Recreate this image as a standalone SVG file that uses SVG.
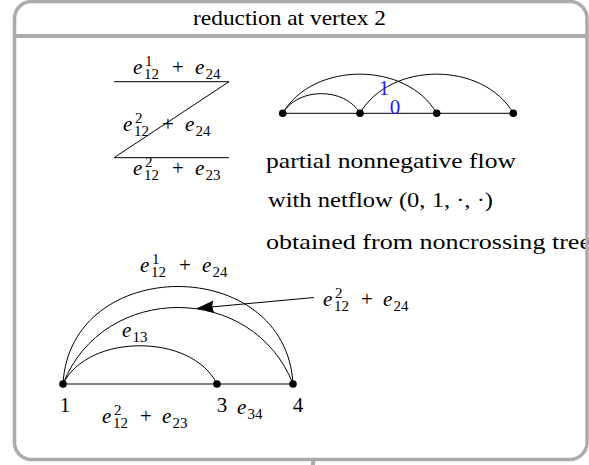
<svg xmlns="http://www.w3.org/2000/svg" width="589" height="465" viewBox="0 0 589 465">
<defs>
<style>
text{font-family:"Liberation Serif","Times New Roman",serif;fill:#000}
.t{font-size:21px}
.d{font-size:22px}
.m{font-size:21px}
.i{font-style:italic}
.s{font-size:15px;font-style:normal}
.blue{fill:#1a1aff;font-size:21px}
.edge{fill:none;stroke:#000;stroke-width:1}
.dot{fill:#000}
.frame{fill:none;stroke:#ababab;stroke-width:3.5}
</style>
<marker id="ah" markerUnits="userSpaceOnUse" markerWidth="20" markerHeight="16" viewBox="-18 -8 20 16" refX="0" refY="0" orient="auto"><path d="M0,0 L-17,-6.3 Q-14,0 -17,6.3 Z" fill="#000"/></marker>
</defs>
<rect x="14.5" y="1.5" width="572.5" height="458" rx="17" fill="#fff"/>

<g id="title"><text class="t" x="289.5" y="25" text-anchor="middle" textLength="193" lengthAdjust="spacingAndGlyphs">reduction at vertex 2</text></g>

<g id="reduction">
<line class="edge" x1="114" y1="81.7" x2="229" y2="81.7"/>
<line class="edge" x1="229" y1="81.7" x2="114" y2="157.7"/>
<line class="edge" x1="114" y1="157.7" x2="229" y2="157.7"/>
<text class="m" x="133" y="74"><tspan class="i">e</tspan><tspan class="s" x="145" y="66">1</tspan><tspan class="s" x="144" y="79">12</tspan><tspan x="172" y="74">+</tspan><tspan class="i" x="195">e</tspan><tspan class="s" x="205.5" y="79">24</tspan></text>
<text class="m" x="123" y="131"><tspan class="i">e</tspan><tspan class="s" x="135" y="123">2</tspan><tspan class="s" x="134" y="136">12</tspan><tspan x="162" y="131">+</tspan><tspan class="i" x="185">e</tspan><tspan class="s" x="195.5" y="136">24</tspan></text>
<text class="m" x="133" y="175"><tspan class="i">e</tspan><tspan class="s" x="145" y="167">2</tspan><tspan class="s" x="144" y="180">12</tspan><tspan x="172" y="175">+</tspan><tspan class="i" x="195">e</tspan><tspan class="s" x="205.5" y="180">23</tspan></text>
</g>

<g id="connectors">
<line class="edge" x1="282.7" y1="113.3" x2="513.3" y2="113.3"/>
<path class="edge" d="M282.7,113.3 C297.8,87.1 344.9,87.1 360,113.3"/>
<path class="edge" d="M282.7,113.3 C312.8,61.1 406.6,61.1 436.7,113.3"/>
<path class="edge" d="M360,113.3 C390.1,61.1 483.2,61.1 513.3,113.3"/>
<line class="edge" x1="63" y1="384" x2="293" y2="384"/>
<path class="edge" d="M63,384 C70,254 286,254 293,384"/>
<path class="edge" d="M63,384 C103,282 253,282 293,384"/>
<path class="edge" d="M63,384 C88,333 192,333 217,384"/>
<line class="edge" x1="314" y1="297.5" x2="197" y2="308.3" marker-end="url(#ah)"/>
</g>

<g id="flow-labels">
<text class="blue" x="384" y="95" text-anchor="middle">1</text>
<text class="blue" x="395" y="114" text-anchor="middle">0</text>
</g>

<g id="t1"><circle class="dot" cx="282.7" cy="113.3" r="3.8"/></g>
<g id="t2"><circle class="dot" cx="360" cy="113.3" r="3.8"/></g>
<g id="t3"><circle class="dot" cx="436.7" cy="113.3" r="3.8"/></g>
<g id="t4"><circle class="dot" cx="513.3" cy="113.3" r="3.8"/></g>

<g id="description">
<text class="d" x="266" y="168" textLength="250" lengthAdjust="spacingAndGlyphs">partial nonnegative flow</text>
<text class="d" x="268" y="207" textLength="225" lengthAdjust="spacingAndGlyphs">with netflow (0, 1, ·, ·)</text>
<text class="d" x="266" y="249" textLength="325" lengthAdjust="spacingAndGlyphs">obtained from noncrossing tree</text>
</g>

<g id="b1"><circle class="dot" cx="63" cy="384" r="3.8"/><text class="m" x="65" y="412" text-anchor="middle">1</text></g>
<g id="b3"><circle class="dot" cx="217" cy="384" r="3.8"/><text class="m" x="222" y="412" text-anchor="middle">3</text></g>
<g id="b4"><circle class="dot" cx="293" cy="384" r="3.8"/><text class="m" x="298" y="412" text-anchor="middle">4</text></g>

<g id="edge-labels">
<text class="m" x="140" y="272"><tspan class="i">e</tspan><tspan class="s" x="152" y="264">1</tspan><tspan class="s" x="151" y="277">12</tspan><tspan x="179" y="272">+</tspan><tspan class="i" x="202">e</tspan><tspan class="s" x="212.5" y="277">24</tspan></text>
<text class="m" x="323" y="306"><tspan class="i">e</tspan><tspan class="s" x="335" y="298">2</tspan><tspan class="s" x="334" y="311">12</tspan><tspan x="361" y="306">+</tspan><tspan class="i" x="383">e</tspan><tspan class="s" x="393.5" y="311">24</tspan></text>
<text class="m" x="122" y="337"><tspan class="i">e</tspan><tspan class="s" x="132.5" y="342">13</tspan></text>
<text class="m" x="237" y="414"><tspan class="i">e</tspan><tspan class="s" x="247.5" y="419">34</tspan></text>
<text class="m" x="102" y="423"><tspan class="i">e</tspan><tspan class="s" x="114" y="415">2</tspan><tspan class="s" x="113" y="428">12</tspan><tspan x="140" y="423">+</tspan><tspan class="i" x="162">e</tspan><tspan class="s" x="172.5" y="428">23</tspan></text>
</g>

<g id="frame">
<rect class="frame" x="14.5" y="1.5" width="572.5" height="458" rx="17"/>
<line x1="14.5" y1="36" x2="587" y2="36" stroke="#ababab" stroke-width="4"/>
<rect x="311" y="460" width="4" height="5" fill="#ababab"/>
</g>
</svg>
